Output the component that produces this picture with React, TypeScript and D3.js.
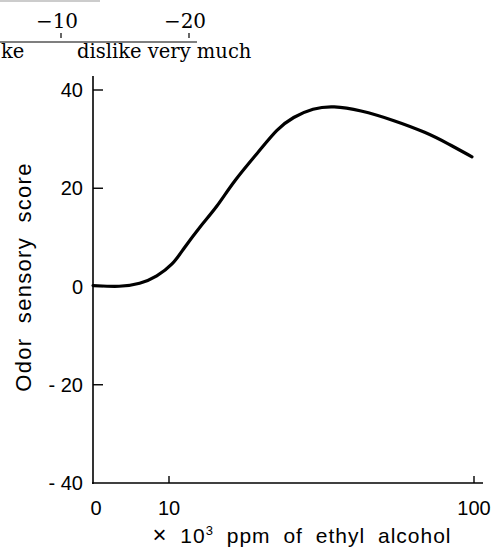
import * as d3 from "d3";

// odor curve
const ppm = [0, 3.6, 6.2, 8.4, 11.2, 14.1, 19.1, 24.2, 28.9, 36.9, 41.9, 46.6, 52.5, 58.4, 66.4, 76.1, 86.1, 92, 99.4];
const score = [0.2, -0.1, 0.5, 2, 4.5, 7.5, 12.2, 16.2, 21.3, 27.8, 32.1, 34.5, 36.3, 36.8, 35.9, 33.9, 31.3, 29.2, 26.4];

const xTicks = [0, 10, 100];
const yTicks = [40, 20, 0, -20, -40];

// leftover scale from the previous panel (top strip)
const topTicks = [-10, -20];

const W = 499;
const H = 554;

export default function App() {
  // x axis is stretched below 10, so use a piecewise linear scale
  const x = d3.scaleLinear().domain([0, 10, 100]).range([93, 169, 474]);
  const y = d3.scaleLinear().domain([-40, 40]).range([483, 90]);
  const top = d3.scaleLinear().domain([-10, -20]).range([61, 189]);

  const pts = ppm.map((p, i) => [p, score[i]] as [number, number]);
  // basis smooths out the reading noise of the hand drawn curve
  const line = d3
    .line<[number, number]>()
    .x((d) => x(d[0]))
    .y((d) => y(d[1]))
    .curve(d3.curveBasis);

  const sans = "'Liberation Sans', Arial, sans-serif";
  const serif = "'DejaVu Serif', serif";

  return (
    <svg
      width={W}
      height={H}
      style={{ position: "absolute", left: 0, top: 0, background: "#fff" }}
    >
      {/* top strip */}
      <line x1={0} x2={100} y1={1} y2={1} stroke="#ccc" strokeWidth={2} />
      <line x1={0} x2={197} y1={42} y2={42} stroke="#000" strokeWidth={1.2} />
      {topTicks.map((t) => (
        <g key={t}>
          <line x1={top(t)} x2={top(t)} y1={33} y2={38} stroke="#000" strokeWidth={1.2} />
          <text x={top(t) - 4} y={28} textAnchor="middle" fontFamily={serif} fontSize={20}>
            {"\u2212" + Math.abs(t)}
          </text>
        </g>
      ))}
      <text x={1} y={58} fontFamily={serif} fontSize={19.5}>ke</text>
      <text x={77} y={58} fontFamily={serif} fontSize={19.5}>dislike very much</text>

      {/* axes */}
      <line x1={93} x2={93} y1={76} y2={484} stroke="#000" strokeWidth={1.6} />
      <line x1={92} x2={483} y1={483} y2={483} stroke="#000" strokeWidth={1.6} />
      {yTicks.map((t) => (
        <g key={t}>
          <line x1={93} x2={t === -40 ? 93 : 103} y1={y(t)} y2={y(t)} stroke="#000" strokeWidth={1.4} />
          <text
            x={83}
            y={y(t) + 7}
            textAnchor="end"
            fontFamily={sans}
            fontSize={20}
          >
            {t < 0 ? "- " + Math.abs(t) : t}
          </text>
        </g>
      ))}
      {xTicks.map((t) => (
        <g key={t}>
          {t > 0 && (
            <line x1={x(t)} x2={x(t)} y1={483} y2={476} stroke="#000" strokeWidth={1.4} />
          )}
          <text
            x={t === 0 ? 96 : x(t)}
            y={515}
            textAnchor="middle"
            fontFamily={sans}
            fontSize={20}
          >
            {t}
          </text>
        </g>
      ))}

      <text
        transform="translate(31,277) rotate(-90)"
        textAnchor="middle"
        fontFamily={sans}
        fontSize={22}
        letterSpacing={1.3}
        wordSpacing={7}
      >
        Odor sensory score
      </text>
      <text
        x={302}
        y={543}
        textAnchor="middle"
        fontFamily={sans}
        fontSize={21}
        letterSpacing={1}
        wordSpacing={6}
      >
        <tspan fontSize={24} fontWeight={300}>{"\u00d7"}</tspan>
        {" 10"}
        <tspan dy={-8} fontSize={13}>3</tspan>
        <tspan dy={8}>{" ppm of ethyl alcohol"}</tspan>
      </text>

      {/* curve */}
      <path d={line(pts) ?? ""} fill="none" stroke="#000" strokeWidth={3.2} strokeLinecap="round" />
    </svg>
  );
}
